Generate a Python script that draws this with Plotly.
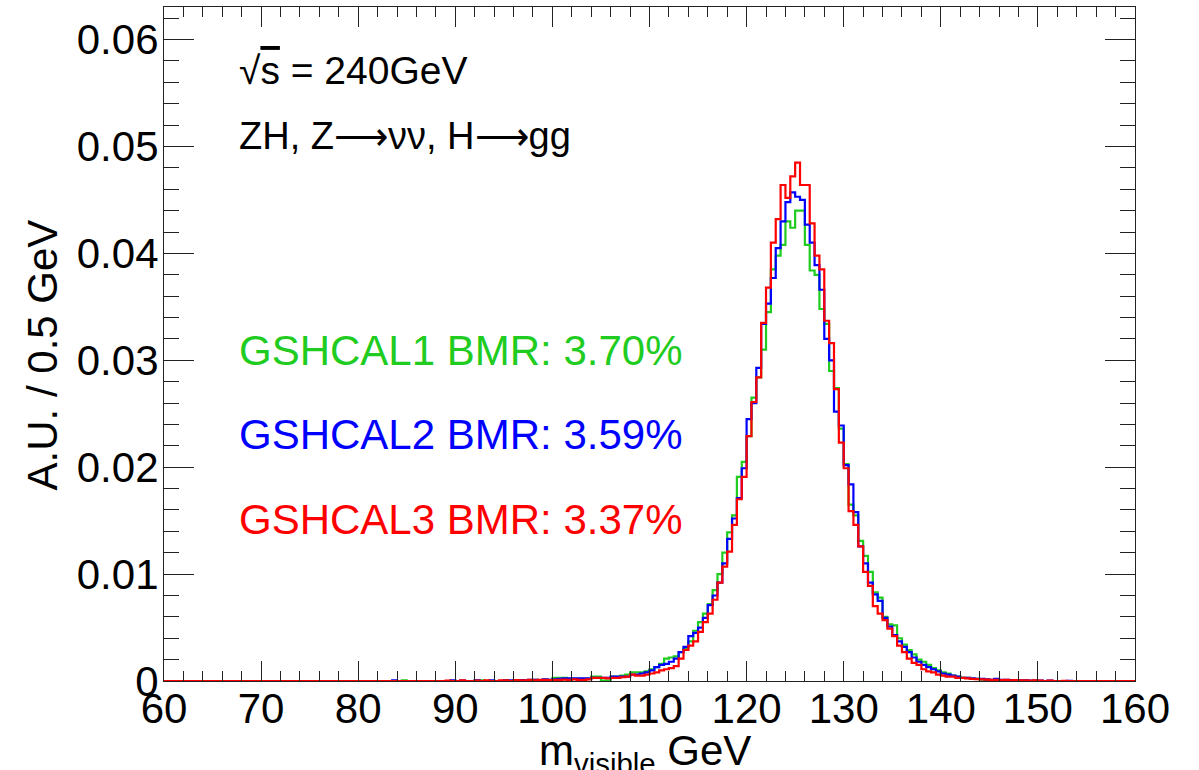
import numpy as np
import plotly.graph_objects as go

# histogram binning: 60-160 GeV, 0.5 GeV bins (200 bins)
x_lo, x_hi, bin_w = 60, 160, 0.5

# bin contents, 10 bins (5 GeV) per row, starting at 60 GeV
gshcal1 = [
    0, 0, 0, 0, 0, 0, 0, 0, 0, 0,
    0, 0, 0, 0, 0, 0, 0, 0, 0, 0,
    0, 0, 0, 0, 0, 0, 0, 0, 0, 0,
    0, 0, 0, 0, 0, 0, 0, 0, 0, 0,
    0, 0, 0, 0, 0, 0, 0, 0, 0, 0.00005,
    0, 0, 0, 0, 0, 0, 0, 0, 0, 0,
    0, 0, 0, 0, 0.00005, 0.00005, 0, 0, 0, 0,
    0.00005, 0, 0.00005, 0.00005, 0.00005, 0.00008, 0.0001, 0.00008, 0.0001, 0.0001,
    0.0003, 0.0003, 0.0003, 0.0002, 0.0002, 0.0002, 0.0002, 0.0002, 0.0004, 0.0004,
    0.00003, 0.00003, 0.0004, 0.0004, 0.0005, 0.0006, 0.0008, 0.0008, 0.0008, 0.0009,
    0.0011, 0.0013, 0.0016, 0.0021, 0.0022, 0.0023, 0.0027, 0.0030, 0.0037, 0.0047,
    0.0055, 0.0063, 0.0072, 0.0085, 0.0100, 0.0120, 0.0139, 0.0155, 0.0191, 0.0205,
    0.0229, 0.0265, 0.0284, 0.0310, 0.0345, 0.0385, 0.0398, 0.0408, 0.0430, 0.0424,
    0.0440, 0.0440, 0.0408, 0.0384, 0.0380, 0.0348, 0.0334, 0.0290, 0.0274, 0.0236,
    0.0203, 0.0165, 0.0155, 0.0131, 0.0117, 0.0102, 0.0083, 0.0078, 0.0060, 0.0053,
    0.0052, 0.0040, 0.0034, 0.0029, 0.0025, 0.0020, 0.0018, 0.0015, 0.0012, 0.0010,
    0.0008, 0.0007, 0.0005, 0.0004, 0.0003, 0.0003, 0.0002, 0.0002, 0.00012, 0.0001,
    0.00003, 0.00005, 0.00005, 0.00005, 0.00003, 0.00005, 0.00003, 0.00003, 0, 0.00003,
    0, 0, 0, 0, 0, 0, 0, 0, 0, 0,
    0, 0, 0, 0, 0, 0, 0, 0, 0, 0,
]

gshcal2 = [
    0, 0, 0, 0, 0, 0, 0, 0, 0, 0,
    0, 0, 0, 0, 0, 0, 0, 0, 0, 0,
    0, 0, 0, 0, 0, 0, 0, 0, 0, 0,
    0, 0, 0, 0, 0, 0, 0, 0, 0, 0,
    0, 0, 0, 0, 0, 0, 0, 0.00005, 0, 0,
    0, 0, 0, 0, 0, 0, 0, 0, 0, 0.00005,
    0, 0.00003, 0, 0, 0.00005, 0, 0, 0.00005, 0, 0,
    0.00005, 0.00005, 0.00005, 0.00008, 0.00005, 0.0001, 0.0001, 0.00008, 0.00015, 0.0001,
    0.00015, 0.0002, 0.00025, 0.00025, 0.00025, 0.00025, 0.00025, 0.00025, 0.0003, 0.0003,
    0.0003, 0.0003, 0.0004, 0.0004, 0.0004, 0.0004, 0.0006, 0.0006, 0.0007, 0.0008,
    0.0010, 0.0013, 0.0015, 0.0016, 0.0018, 0.0021, 0.0027, 0.0032, 0.0042, 0.0045,
    0.0050, 0.0059, 0.0071, 0.0080, 0.0092, 0.0110, 0.0133, 0.0152, 0.0171, 0.0199,
    0.0245, 0.0260, 0.0293, 0.0334, 0.0353, 0.0377, 0.0405, 0.0430, 0.0448, 0.0457,
    0.0453, 0.0450, 0.0427, 0.0410, 0.0389, 0.0366, 0.0320, 0.0300, 0.0252, 0.0239,
    0.0202, 0.0184, 0.0158, 0.0126, 0.0110, 0.0092, 0.0081, 0.0075, 0.0059, 0.0051,
    0.0043, 0.0037, 0.0032, 0.0027, 0.0022, 0.0018, 0.0015, 0.0013, 0.0011, 0.0009,
    0.0007, 0.0006, 0.0005, 0.0004, 0.0003, 0.0003, 0.00025, 0.0002, 0.0002, 0.00015,
    0.0001, 0.0002, 0.0001, 0.0001, 0.00008, 0.00005, 0.00005, 0.00005, 0.00003, 0.00003,
    0.00003, 0, 0.00003, 0, 0, 0, 0.00002, 0, 0, 0,
    0, 0, 0, 0, 0, 0, 0, 0, 0, 0,
]

gshcal3 = [
    0, 0, 0, 0, 0, 0, 0, 0, 0, 0,
    0, 0, 0, 0, 0, 0, 0, 0, 0, 0,
    0, 0, 0, 0, 0, 0, 0, 0, 0, 0,
    0, 0, 0, 0, 0, 0, 0, 0, 0, 0,
    0, 0, 0, 0, 0, 0, 0, 0, 0, 0,
    0, 0, 0, 0, 0, 0, 0, 0, 0.00003, 0,
    0, 0.00005, 0, 0, 0.00003, 0, 0.00005, 0, 0, 0.00005,
    0.00005, 0, 0.00008, 0.00005, 0.00005, 0.0001, 0.00005, 0.0001, 0.0001, 0.00008,
    0.0001, 0.0001, 0.00012, 0.0001, 0.00015, 0.0001, 0.0001, 0.00015, 0.0003, 0.0003,
    0.0003, 0.00025, 0.0003, 0.0003, 0.00035, 0.0004, 0.0006, 0.0005, 0.0005, 0.0006,
    0.0007, 0.0008, 0.0010, 0.0011, 0.0012, 0.0014, 0.0021, 0.0029, 0.0033, 0.0037,
    0.0046, 0.0055, 0.0063, 0.0076, 0.0092, 0.0107, 0.0121, 0.0146, 0.0170, 0.0191,
    0.0229, 0.0261, 0.0284, 0.0335, 0.0368, 0.0410, 0.0432, 0.0464, 0.0452, 0.0472,
    0.0485, 0.0464, 0.0464, 0.0428, 0.0398, 0.0385, 0.0337, 0.0316, 0.0273, 0.0223,
    0.0199, 0.0159, 0.0146, 0.0126, 0.0102, 0.0089, 0.0070, 0.0063, 0.0057, 0.0049,
    0.0042, 0.0033, 0.0027, 0.0021, 0.0017, 0.0015, 0.0011, 0.0009, 0.0008, 0.0006,
    0.0005, 0.0004, 0.0004, 0.0003, 0.0003, 0.00025, 0.0002, 0.00018, 0.00015, 0.00012,
    0.0001, 0.0001, 0.00008, 0.0001, 0.00005, 0.00008, 0.00005, 0.00005, 0.00003, 0.00005,
    0.00003, 0, 0.00003, 0, 0, 0.00002, 0, 0, 0, 0,
    0, 0, 0, 0, 0, 0, 0, 0, 0, 0,
]

labels = ["GSHCAL1 BMR: 3.70%", "GSHCAL2 BMR: 3.59%", "GSHCAL3 BMR: 3.37%"]
colors = ["#1fcc1f", "#0000ff", "#ff0000"]

edges = np.arange(x_lo, x_hi + bin_w / 2, bin_w)
font = "Liberation Sans, Arial, sans-serif"
fsize = 42

fig = go.Figure()
for vals, col in zip([gshcal1, gshcal2, gshcal3], colors):
    fig.add_trace(go.Scatter(
        x=edges, y=list(vals) + [vals[-1]],
        mode="lines", line=dict(color=col, width=2.2, shape="hv"),
        showlegend=False, hoverinfo="skip",
    ))

axis_common = dict(
    showgrid=False, zeroline=False, showline=True, linecolor="#222", linewidth=1.2,
    mirror="allticks", ticks="inside", tickcolor="#222", tickwidth=1.2,
    tickfont=dict(family=font, size=fsize, color="black"),
)
fig.update_xaxes(range=[x_lo, x_hi], dtick=10, ticklen=20, ticklabelstandoff=-10,
                 minor=dict(dtick=2, ticklen=10, ticks="inside", tickcolor="#222", tickwidth=1.2),
                 **axis_common)
fig.update_yaxes(range=[0, 0.06305], dtick=0.01, ticklen=30, ticklabelstandoff=-4,
                 minor=dict(dtick=0.002, ticklen=15, ticks="inside", tickcolor="#222", tickwidth=1.2),
                 **axis_common)

ann = []
ann.append(dict(text="√<span style='text-decoration:overline'>s</span> = 240GeV",
                x=0.0752, y=0.9065, font=dict(size=39, color="black")))
ann.append(dict(text="ZH, Z⟶νν, H⟶gg", x=0.0752, y=0.808, font=dict(size=38, color="black")))
for lab, col, yy in zip(labels, colors, [0.491, 0.365, 0.239]):
    ann.append(dict(text=lab, x=0.0752, y=yy, font=dict(size=fsize, color=col)))
for a in ann:
    a.update(xref="paper", yref="paper", xanchor="left", yanchor="middle", showarrow=False)
    a["font"]["family"] = font
# axis titles
ann.append(dict(text="m<sub>visible</sub> GeV", x=0.495, y=-0.108, xref="paper", yref="paper",
                xanchor="center", yanchor="middle", showarrow=False,
                font=dict(family=font, size=fsize, color="black")))
ann.append(dict(text="A.U. / 0.5 GeV", x=-0.125, y=0.484, xref="paper", yref="paper",
                xanchor="center", yanchor="middle", textangle=-90, showarrow=False,
                font=dict(family=font, size=fsize, color="black")))

fig.update_layout(
    width=1199, height=770,
    margin=dict(l=164, r=64, t=7, b=89),
    plot_bgcolor="white", paper_bgcolor="white",
    annotations=ann,
)

# drop the page's default body margin so the figure sits at the window's corner
fig.write_html("out.html", config={"displayModeBar": False},
               post_script="document.body.style.margin='0';")
